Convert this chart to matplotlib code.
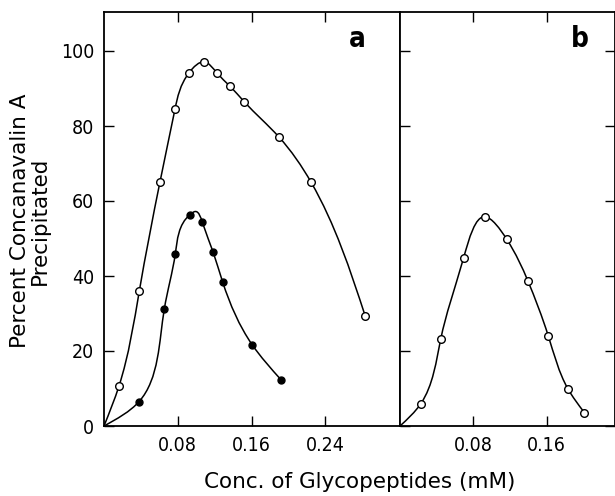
import numpy as np
import matplotlib
matplotlib.use("Agg")
import matplotlib.pyplot as plt
from matplotlib.path import Path
from matplotlib.patches import PathPatch

# panel a, open circles
a_open_x = [0.0163, 0.0383, 0.0608, 0.0770, 0.0922, 0.1089, 0.1223, 0.1367, 0.1523, 0.1896, 0.2246, 0.2832]
a_open_y = [10.7, 36.0, 65.2, 84.5, 94.2, 97.1, 94.2, 90.6, 86.4, 77.1, 65.0, 29.4]
# panel a, filled circles
a_fill_x = [0.0380, 0.0654, 0.0774, 0.0933, 0.1067, 0.1183, 0.1288, 0.1606, 0.1921]
a_fill_y = [6.5, 31.2, 46.0, 56.4, 54.3, 46.4, 38.3, 21.7, 12.3]
# hand-drawn curve through the filled points (origin and rounded top)
a_fill_curve_x = [0.0, 0.0380, 0.0654, 0.0774, 0.0933, 0.0992, 0.1067, 0.1183, 0.1288, 0.1606, 0.1921]
a_fill_curve_y = [0.0, 6.5, 31.2, 46.0, 56.4, 57.2, 54.3, 46.4, 38.3, 21.7, 12.3]
# panel b, open circles
b_open_x = [0.0226, 0.0444, 0.0695, 0.0928, 0.1165, 0.1394, 0.1619, 0.1831, 0.2012]
b_open_y = [5.9, 23.1, 44.9, 55.8, 49.8, 38.8, 24.0, 10.0, 3.6]

yticks = [0, 20, 40, 60, 80, 100]
xticks = [0.08, 0.16, 0.24]

TICK_FONT = dict(family="DejaVu Sans", stretch="condensed", fontsize=14)
LABEL_FONT = dict(family="DejaVu Sans", fontsize=15.5)

# rough pixel scale, only used to parameterise the hand-drawn curves
XS, YS = 920.0, 3.75


def natural_slopes(t, v):
    n = len(t)
    h = np.diff(t)
    A = np.zeros((n, n))
    r = np.zeros(n)
    A[0, 0] = A[-1, -1] = 1.0
    for i in range(1, n - 1):
        A[i, i - 1] = h[i - 1]
        A[i, i] = 2 * (h[i - 1] + h[i])
        A[i, i + 1] = h[i]
        r[i] = 6 * ((v[i + 1] - v[i]) / h[i] - (v[i] - v[i - 1]) / h[i - 1])
    m = np.linalg.solve(A, r)
    d = np.empty(n)
    d[:-1] = (v[1:] - v[:-1]) / h - h * (2 * m[:-1] + m[1:]) / 6
    d[-1] = (v[-1] - v[-2]) / h[-1] + h[-1] * (m[-2] + 2 * m[-1]) / 6
    return d


def smooth_line(ax, xs, ys, lw=1.1):
    # natural spline through the points, drawn as a Bezier path
    px = np.asarray(xs, float) * XS
    py = np.asarray(ys, float) * YS
    t = np.concatenate([[0], np.cumsum(np.hypot(np.diff(px), np.diff(py)))])
    dx, dy = natural_slopes(t, px), natural_slopes(t, py)
    verts, codes = [(px[0], py[0])], [Path.MOVETO]
    for i in range(len(t) - 1):
        h = t[i + 1] - t[i]
        verts += [(px[i] + dx[i] * h / 3, py[i] + dy[i] * h / 3),
                  (px[i + 1] - dx[i + 1] * h / 3, py[i + 1] - dy[i + 1] * h / 3),
                  (px[i + 1], py[i + 1])]
        codes += [Path.CURVE4] * 3
    verts = [(vx / XS, vy / YS) for vx, vy in verts]
    ax.add_patch(PathPatch(Path(verts, codes), fill=False, lw=lw, color="black", zorder=2))


W, H = 615, 496
fig = plt.figure(figsize=(W / 100, H / 100), dpi=100)
left, mid, right = 104 / W, 400 / W, 1.0
bottom, top = (H - 426) / H, (H - 12) / H
ax_a = fig.add_axes([left, bottom, mid - left, top - bottom])
ax_b = fig.add_axes([mid, bottom, right - mid, top - bottom])

for ax in (ax_a, ax_b):
    ax.set_ylim(0, 110.4)
    ax.set_yticks(yticks)
    ax.tick_params(direction="in", length=7, width=1.0, top=True, right=True, pad=7)
    for s in ax.spines.values():
        s.set_linewidth(1.3)

ax_a.set_xlim(0, 0.321)
ax_b.set_xlim(0, 0.2347)
ax_a.set_xticks(xticks)
ax_a.set_xticklabels(["0.08", "0.16", "0.24"], **TICK_FONT)
ax_b.set_xticks(xticks[:2])
ax_b.set_xticklabels(["0.08", "0.16"], **TICK_FONT)
ax_a.set_yticklabels([str(v) for v in yticks], **TICK_FONT)
ax_a.tick_params(axis="y", right=False)
ax_b.tick_params(axis="y", labelleft=False)

smooth_line(ax_a, [0.0] + a_open_x, [0.0] + a_open_y)
smooth_line(ax_a, a_fill_curve_x, a_fill_curve_y)
smooth_line(ax_b, [0.0] + b_open_x, [0.0] + b_open_y)

ax_a.plot(a_open_x, a_open_y, "o", ms=5.5, mfc="white", mec="black", mew=1.0, zorder=3)
ax_a.plot(a_fill_x, a_fill_y, "o", ms=5, mfc="black", mec="black", zorder=3)
ax_b.plot(b_open_x, b_open_y, "o", ms=5.5, mfc="white", mec="black", mew=1.0, zorder=3)

ax_a.text(0.857, 0.915, "a", transform=ax_a.transAxes, family="DejaVu Sans",
          stretch="condensed", fontweight="bold", fontsize=20, ha="center", va="baseline")
ax_b.text(0.835, 0.915, "b", transform=ax_b.transAxes, family="DejaVu Sans",
          stretch="condensed", fontweight="bold", fontsize=20, ha="center", va="baseline")

fig.text(30 / W, (H - 221) / H, "Percent Concanavalin A\nPrecipitated",
         rotation=90, ha="center", va="center", multialignment="center",
         linespacing=1.0, **LABEL_FONT)
fig.text(360 / W, (H - 482) / H, "Conc. of Glycopeptides (mM)", ha="center",
         va="center", **LABEL_FONT)

fig.savefig("out.png", dpi=100)
